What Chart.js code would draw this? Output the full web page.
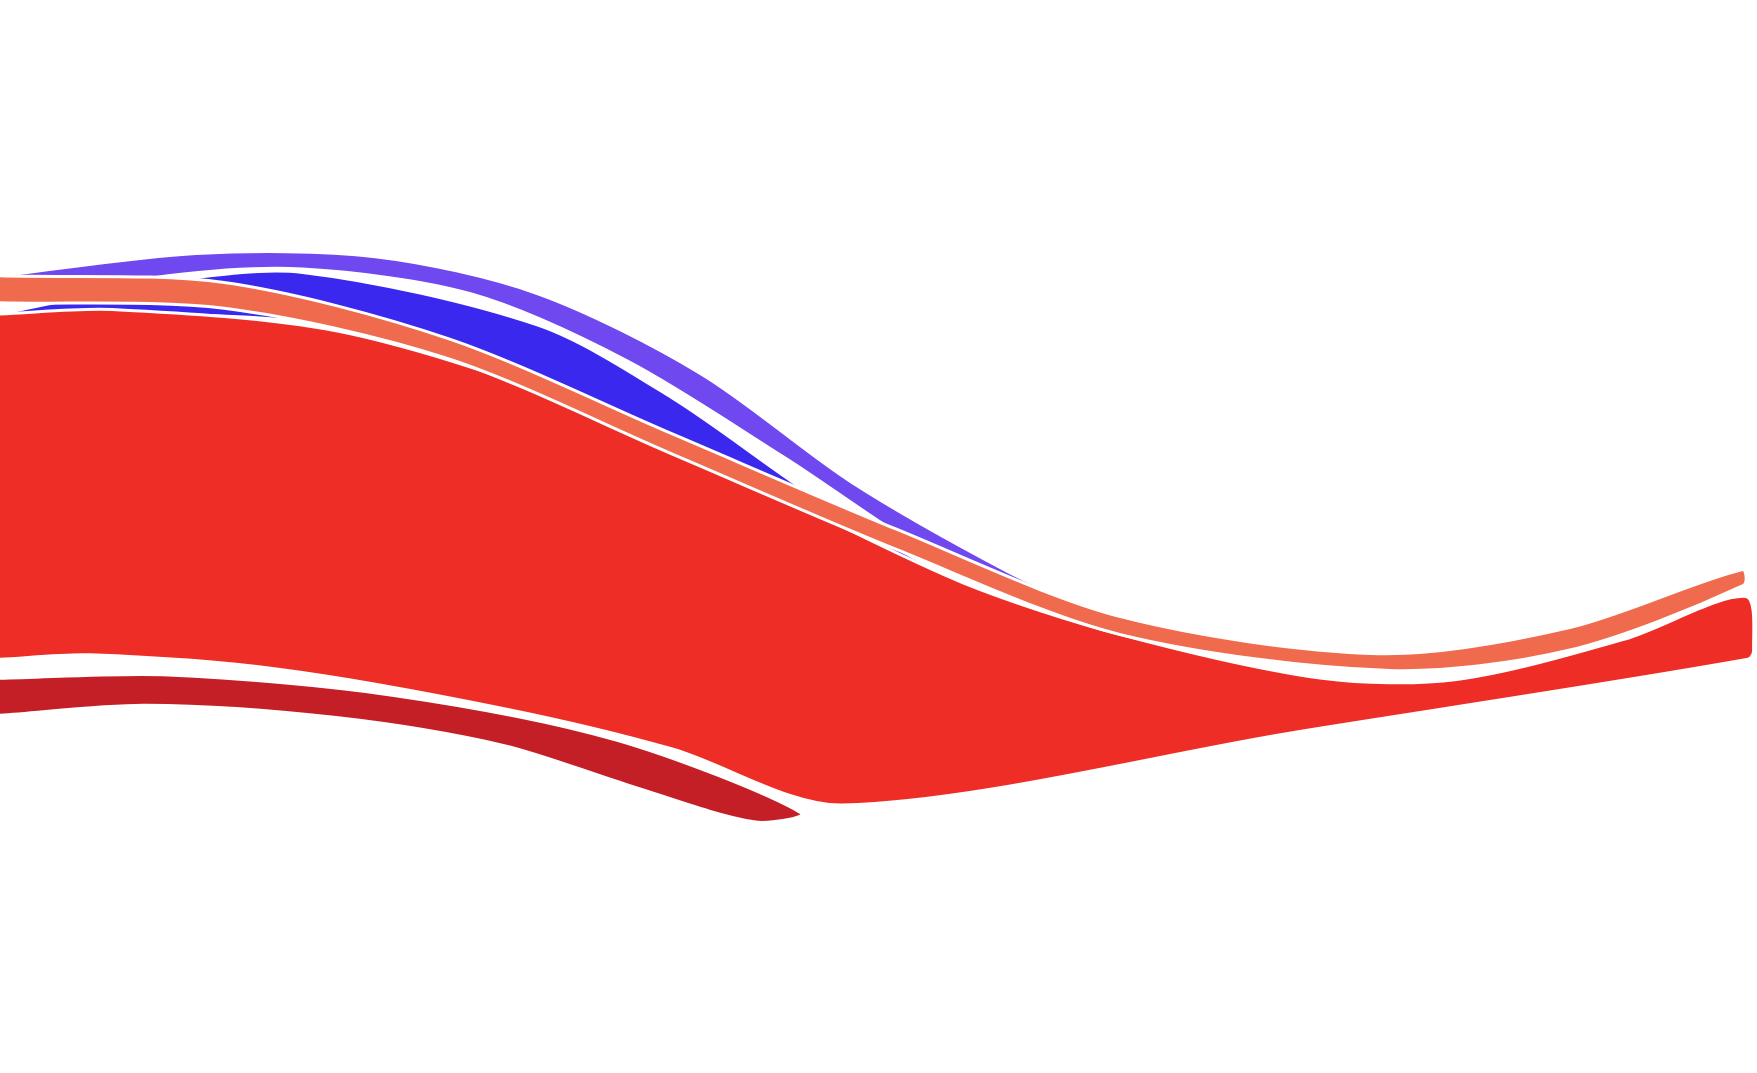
<!DOCTYPE html>
<html>
<head>
<meta charset="utf-8">
<script src="https://cdn.jsdelivr.net/npm/chart.js@4/dist/chart.umd.min.js"></script>
<style>
  html, body { margin: 0; padding: 0; background: #fff; }
  #wrap { width: 1757px; height: 1073px; }
</style>
</head>
<body>
<div id="wrap"><canvas id="c"></canvas></div>
<script>
// band outlines (x 0..1568, y 0..957 from top)
const purpleBand = [[0,246],[175,226],[335,229],[480,262],[625,333],[760,430],[900,510],[1010,562],
  [840,498],[700,408],[560,322],[420,262],[270,240],[150,246],[0,272]];
const blueBand = [[0,280],[150,251],[270,243],[480,290],[600,355],[730,445],[860,520],[1010,563],
  [860,522],[700,445],[560,375],[420,320],[250,285],[0,281]];
const orangeBand = [[0,246],[200,252],[400,302],[600,387],[800,472],[1000,550],[1230,583],[1400,560],[1555,508],
  [1556,522],[1400,580],[1240,598],[1000,566],[800,490],[600,405],[400,320],[200,275],[0,270]];
const redBand = [[0,280],[100,276],[300,295],[500,355],[700,445],[860,520],[1000,566],[1180,605],[1300,606],[1450,570],[1558,532],
  [1565,580],[1560,588],[1156,653],[752,718],[600,668],[450,632],[250,597],[80,584],[0,588]];
const darkRedBand = [[0,605],[150,602],[350,620],[550,660],[715,725],
  [673,733],[560,700],[450,665],[300,640],[130,629],[0,638]];

const toPts = a => a.map(([x, y]) => ({ x, y }));
const band = (pts, color, order) => ({
  data: toPts(pts), showLine: true, fill: 'shape', tension: 0.3,
  backgroundColor: color, borderColor: '#ffffff', borderWidth: 3,
  pointRadius: 0, order
});

new Chart(document.getElementById('c'), {
  type: 'scatter',
  data: {
    datasets: [
      band(darkRedBand, '#C41F26', 5),
      band(blueBand, '#3A28EE', 4),
      band(purpleBand, '#7048F0', 3),
      band(redBand, '#EE2E26', 2),
      band(orangeBand, '#F06A4E', 1)
    ]
  },
  options: {
    responsive: true, maintainAspectRatio: false, animation: false,
    layout: { padding: 0 },
    plugins: { legend: { display: false }, tooltip: { enabled: false } },
    scales: {
      x: { display: false, min: 0, max: 1568 },
      y: { display: false, min: 0, max: 957, reverse: true }
    }
  }
});
</script>
</body>
</html>
